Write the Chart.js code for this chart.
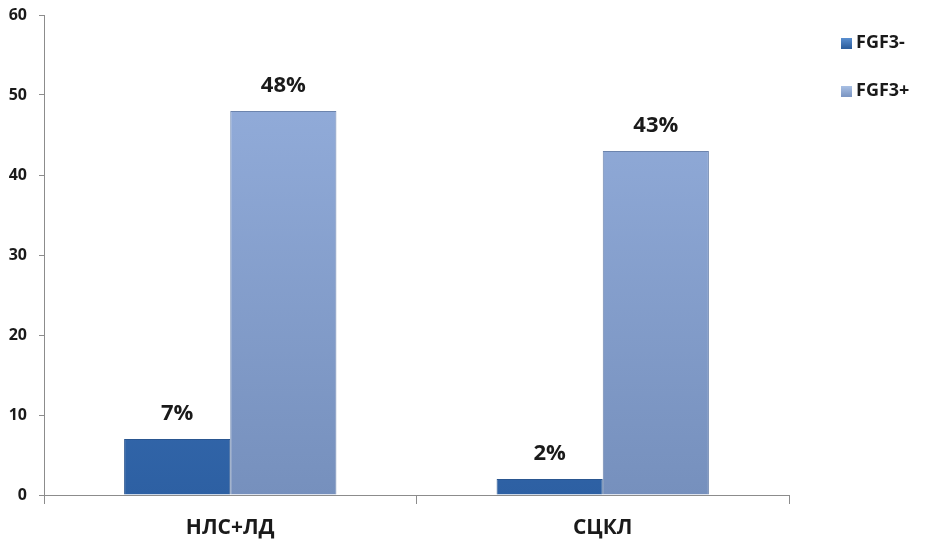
<!DOCTYPE html>
<html>
<head>
<meta charset="utf-8">
<script src="https://cdn.jsdelivr.net/npm/chart.js@4"></script>
<style>
  html, body { margin: 0; padding: 0; background: #fff; }
</style>
</head>
<body>
<canvas id="chart" width="929" height="546"></canvas>
<script>
// Chart data
const categories = ['НЛС+ЛД', 'СЦКЛ'];
const seriesNames = ['FGF3-', 'FGF3+'];
const fgf3Minus = [7, 2];
const fgf3Plus = [48, 43];
const yTicks = [0, 10, 20, 30, 40, 50, 60];

const FONT = "'Open Sans', 'Liberation Sans', sans-serif";

// vertical gradient for bars, top light -> bottom dark
function barGradient(ctx, top, bottom) {
    const chart = ctx.chart;
    const area = chart.chartArea;
    if (!area) return top;
    const g = chart.ctx.createLinearGradient(0, area.top, 0, area.bottom);
    g.addColorStop(0, top);
    g.addColorStop(1, bottom);
    return g;
}

// percent labels above bars
const valueLabels = {
    id: 'valueLabels',
    afterDatasetsDraw(chart) {
        const ctx = chart.ctx;
        ctx.save();
        ctx.font = 'bold 22px ' + FONT;
        ctx.fillStyle = '#1a1a1a';
        ctx.textAlign = 'center';
        ctx.textBaseline = 'alphabetic';
        chart.data.datasets.forEach((ds, i) => {
            chart.getDatasetMeta(i).data.forEach((bar, j) => {
                ctx.fillText(ds.data[j] + '%', bar.x, bar.y - 19);
            });
        });
        ctx.restore();
    }
};

// legend on the right
const sideLegend = {
    id: 'sideLegend',
    afterDraw(chart) {
        const ctx = chart.ctx;
        const swatches = [['#5a8fd0', '#2e5f9e'], ['#a9c0e4', '#7d97c4']];
        ctx.save();
        ctx.font = 'bold 18px ' + FONT;
        ctx.textBaseline = 'middle';
        chart.data.datasets.forEach((ds, i) => {
            const y = 43 + i * 48;
            const g = ctx.createLinearGradient(0, y - 5, 0, y + 5);
            g.addColorStop(0, swatches[i][0]);
            g.addColorStop(1, swatches[i][1]);
            ctx.fillStyle = g;
            ctx.fillRect(841, y - 5, 11, 11);
            ctx.fillStyle = '#1a1a1a';
            ctx.fillText(ds.label, 856, y);
        });
        ctx.restore();
    }
};

new Chart(document.getElementById('chart'), {
    type: 'bar',
    data: {
        labels: categories,
        datasets: [{
            label: seriesNames[0],
            data: fgf3Minus,
            backgroundColor: ctx => barGradient(ctx, '#4a81c8', '#2d60a3'),
            borderColor: '#2a5690',
            borderWidth: 1
        }, {
            label: seriesNames[1],
            data: fgf3Plus,
            backgroundColor: ctx => barGradient(ctx, '#97b1df', '#7690bd'),
            borderColor: '#6c84ad',
            borderWidth: 1
        }]
    },
    options: {
        responsive: false,
        animation: false,
        layout: { padding: { top: 15, right: 140, bottom: 0, left: 0 } },
        plugins: {
            legend: { display: false },
            tooltip: { enabled: false }
        },
        datasets: {
            bar: { categoryPercentage: 0.57, barPercentage: 1 }
        },
        scales: {
            x: {
                afterFit: axis => { axis.height = 51; },
                grid: { drawOnChartArea: false, drawTicks: true, tickLength: 9, color: '#8c8c8c', offset: true },
                border: { color: '#8c8c8c' },
                ticks: {
                    color: '#1a1a1a',
                    font: { family: FONT, size: 21, weight: 'bold' },
                    padding: 11
                }
            },
            y: {
                min: 0,
                max: 60,
                afterFit: axis => {
                    axis.width = 44;
                    axis.paddingTop = 0;
                    axis.paddingBottom = 0;
                },
                afterBuildTicks: axis => { axis.ticks = yTicks.map(v => ({ value: v })); },
                grid: { drawOnChartArea: false, drawTicks: true, tickLength: 5, color: '#8c8c8c' },
                border: { color: '#8c8c8c' },
                ticks: {
                    color: '#1a1a1a',
                    font: { family: FONT, size: 16, weight: 'bold' },
                    padding: 12
                }
            }
        }
    },
    plugins: [valueLabels, sideLegend]
});
</script>
</body>
</html>
